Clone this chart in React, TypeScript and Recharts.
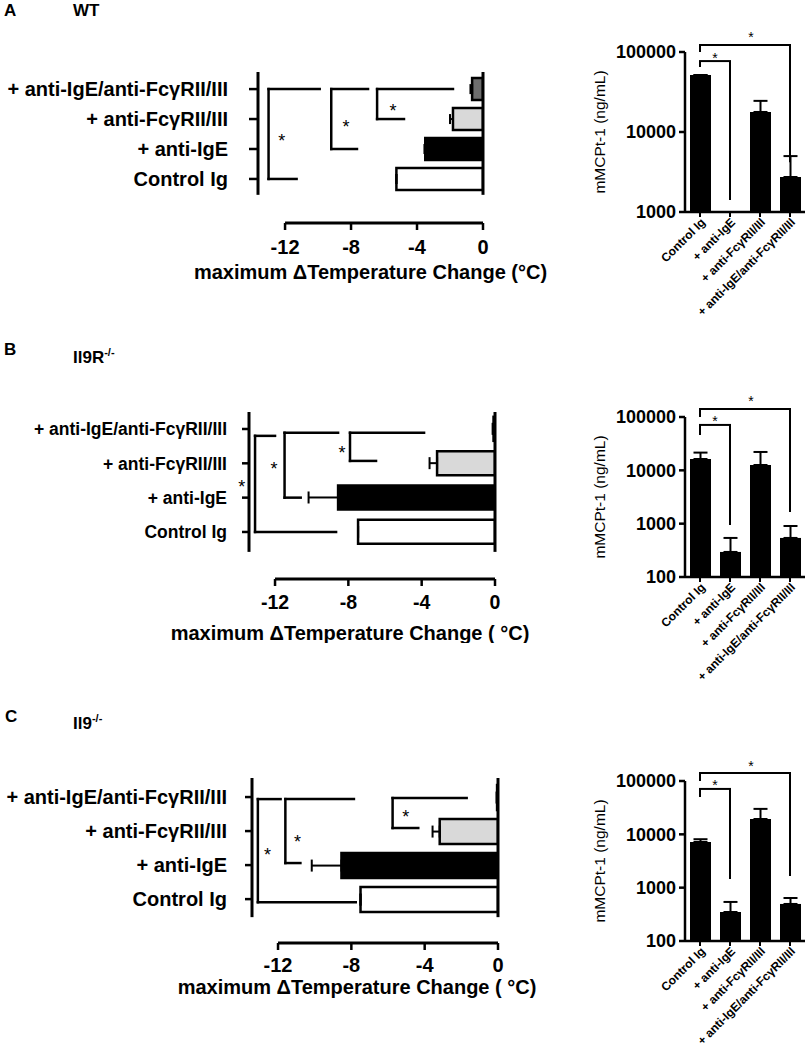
import {
  ComposedChart,
  BarChart,
  Bar,
  XAxis,
  YAxis,
  ErrorBar,
  Cell,
  ReferenceLine,
  ReferenceDot,
} from "recharts";

const FONT = '"Liberation Sans", Arial, Helvetica, sans-serif';

// left panels: rows top -> bottom
const rowLabels = ["+ anti-IgE/anti-FcγRII/III", "+ anti-FcγRII/III", "+ anti-IgE", "Control Ig"];
const rowPos = [1, 2, 3, 4];
const tempTicks = [-12, -8, -4, 0];

// maximum temperature change (°C) and error (one sided)
const tempWT = [-0.66, -1.82, -3.5, -5.25];
const tempWTErr = [0.1, 0.18, 0.05, 0];
const tempIl9R = [-0.08, -3.16, -8.56, -7.47];
const tempIl9RErr = [0.05, 0.41, 1.61, 0];
const tempIl9 = [-0.05, -3.18, -8.54, -7.5];
const tempIl9Err = [0.03, 0.39, 1.62, 0];

// significance brackets on the temperature plots (data units)
const bracketsWT = [
  { x: -13.0, y1: 1, y2: 4, x1: -9.9, x2: -11.3, sx: -12.2, sy: 2.6 },
  { x: -9.2, y1: 1, y2: 3, x1: -6.97, x2: -7.64, sx: -8.3, sy: 2.13 },
  { x: -6.42, y1: 1, y2: 2, x1: -1.82, x2: -4.79, sx: -5.45, sy: 1.6 },
];
const bracketsIl9R = [
  { x: -13.09, y1: 1.2, y2: 4, x1: -12.0, x2: -8.67, sx: -13.82, sy: 2.57 },
  { x: -11.48, y1: 1.11, y2: 3, x1: -8.56, x2: -10.6, sx: -12.06, sy: 2.03 },
  { x: -7.91, y1: 1.11, y2: 1.93, x1: -3.87, x2: -6.49, sx: -8.35, sy: 1.58 },
];
const bracketsIl9 = [
  { x: -13.1, y1: 1.06, y2: 4.09, x1: -11.86, x2: -7.76, sx: -12.58, sy: 2.56 },
  { x: -11.6, y1: 1.06, y2: 2.94, x1: -7.86, x2: -10.78, sx: -10.94, sy: 2.18 },
  { x: -5.75, y1: 1.03, y2: 1.91, x1: -1.71, x2: -4.35, sx: -5.03, sy: 1.47 },
];

// right panels: mMCPt-1 (ng/mL)
const mcptCats = ["Control Ig", "+ anti-IgE", "+ anti-FcγRII/III", "+ anti-IgE/anti-FcγRII/III"];
const mcptWT = [51500, 1000, 17800, 2740];
const mcptWTErr = [0, 0, 6700, 2260];
const mcptIl9R = [16300, 295, 12600, 540];
const mcptIl9RErr = [5200, 245, 9500, 365];
const mcptIl9 = [7200, 350, 19400, 495];
const mcptIl9Err = [900, 190, 10600, 145];

const mcptBracketsWT = [
  { a: mcptCats[0], b: mcptCats[1], top: 77000, aEnd: 65000, bEnd: 1410, star: 92000, starAt: mcptCats[1], starDx: -15 },
  { a: mcptCats[0], b: mcptCats[3], top: 122000, aEnd: 100000, bEnd: 4200, star: 168000, starAt: mcptCats[2], starDx: -9 },
];
const mcptBracketsIl9R = [
  { a: mcptCats[0], b: mcptCats[1], top: 71000, aEnd: 46000, bEnd: 945, star: 96000, starAt: mcptCats[1], starDx: -15 },
  { a: mcptCats[0], b: mcptCats[3], top: 141000, aEnd: 100000, bEnd: 1660, star: 229000, starAt: mcptCats[2], starDx: -9 },
];
const mcptBracketsIl9 = [
  { a: mcptCats[0], b: mcptCats[1], top: 71000, aEnd: 50000, bEnd: 1450, star: 96000, starAt: mcptCats[1], starDx: -15 },
  { a: mcptCats[0], b: mcptCats[3], top: 141000, aEnd: 100000, bEnd: 1660, star: 218000, starAt: mcptCats[2], starDx: -9 },
];

const rowFills = ["#6e6e6e", "#d9d9d9", "#000000", "#ffffff"];
const line = { stroke: "#000", strokeWidth: 2.5, ifOverflow: "visible" as const };

function star(size: number, dx = 0) {
  return (p: any) => (
    <text x={p.cx + dx} y={p.cy} dy={size * 0.58} textAnchor="middle" fontSize={size} fill="#000">
      *
    </text>
  );
}

interface TempProps {
  top: number;
  height: number;
  marginTop: number;
  yAxisWidth: number;
  marginRight: number;
  xMin: number;
  yDomain: [number, number];
  axisSpan: [number, number];
  labelFont: number;
  yTickSize: number;
  yTickMargin: number;
  barSize: number;
  capHalf: number;
  xTickFont: number;
  xTickMargin: number;
  xAxisHeight: number;
  titleOffset: number;
  titleDx: number;
  title: string;
  values: number[];
  errs: number[];
  brackets: typeof bracketsWT;
}

function TempChart(p: TempProps) {
  const data = rowLabels.map((name, i) => ({
    name,
    pos: rowPos[i],
    value: p.values[i],
    err: [p.errs[i], 0],
  }));
  const [lo, hi] = p.axisSpan;
  return (
    <div style={{ position: "absolute", left: 0, top: p.top }}>
      <ComposedChart
        layout="vertical"
        width={560}
        height={p.height}
        data={data}
        margin={{ top: p.marginTop, right: p.marginRight, bottom: 0, left: 0 }}
      >
        <XAxis
          type="number"
          domain={[p.xMin, 0]}
          allowDataOverflow
          ticks={tempTicks}
          axisLine={false}
          tickSize={7}
          tickMargin={p.xTickMargin}
          tickLine={{ stroke: "#000", strokeWidth: 2.5 }}
          tick={{ fill: "#000", fontSize: p.xTickFont, fontWeight: 700 }}
          height={p.xAxisHeight}
          label={{
            value: p.title,
            position: "insideBottom",
            offset: p.titleOffset,
            dx: p.titleDx,
            style: { fill: "#000", fontSize: 20, fontWeight: 700 },
          }}
        />
        <YAxis
          type="number"
          dataKey="pos"
          domain={p.yDomain}
          allowDataOverflow
          ticks={rowPos}
          interval={0}
          tickFormatter={(v: number) => rowLabels[rowPos.indexOf(v)]}
          width={p.yAxisWidth}
          axisLine={false}
          tickSize={p.yTickSize}
          tickMargin={p.yTickMargin}
          tickLine={{ stroke: "#000", strokeWidth: 2.5 }}
          tick={{ fill: "#000", fontSize: p.labelFont, fontWeight: 700 }}
        />
        <Bar dataKey="value" barSize={p.barSize} stroke="#000" strokeWidth={2.5} isAnimationActive={false}>
          {data.map((d, i) => (
            <Cell key={d.name} fill={rowFills[i]} />
          ))}
          <ErrorBar dataKey="err" direction="x" width={p.capHalf} stroke="#000" strokeWidth={2} isAnimationActive={false} />
        </Bar>
        {/* detached axes, Prism style */}
        <ReferenceLine segment={[{ x: p.xMin, y: lo }, { x: p.xMin, y: hi }]} {...line} strokeWidth={3} />
        <ReferenceLine segment={[{ x: 0, y: lo }, { x: 0, y: hi }]} {...line} strokeWidth={3} />
        <ReferenceLine segment={[{ x: -12, y: p.yDomain[1] }, { x: 0, y: p.yDomain[1] }]} {...line} strokeWidth={3} />
        {p.brackets.map((b, i) => [
          <ReferenceLine key={`v${i}`} segment={[{ x: b.x, y: b.y1 }, { x: b.x, y: b.y2 }]} {...line} strokeLinecap="square" />,
          <ReferenceLine key={`t${i}`} segment={[{ x: b.x, y: b.y1 }, { x: b.x1, y: b.y1 }]} {...line} strokeLinecap="square" />,
          <ReferenceLine key={`b${i}`} segment={[{ x: b.x, y: b.y2 }, { x: b.x2, y: b.y2 }]} {...line} strokeLinecap="square" />,
          <ReferenceDot key={`s${i}`} x={b.sx} y={b.sy} r={0} ifOverflow="visible" shape={star(18)} />,
        ])}
      </ComposedChart>
    </div>
  );
}

function SlantTick(props: any) {
  const { x, y, payload } = props;
  return (
    <g transform={`translate(${x + 3},${y})`}>
      <text transform="rotate(-45)" textAnchor="end" dy="0.35em" fontSize={12} fontWeight={700} fill="#000">
        {payload.value}
      </text>
    </g>
  );
}

interface McptProps {
  top: number;
  height: number;
  xAxisHeight: number;
  domain: [number, number];
  ticks: number[];
  values: number[];
  errs: number[];
  brackets: typeof mcptBracketsWT;
}

function McptChart(p: McptProps) {
  const data = mcptCats.map((name, i) => ({ name, value: p.values[i], err: [0, p.errs[i]] }));
  return (
    <div style={{ position: "absolute", left: 560, top: p.top }}>
      <BarChart width={248} height={p.height} data={data} margin={{ top: 32, right: 3, bottom: 0, left: 0 }}>
        <XAxis
          dataKey="name"
          type="category"
          interval={0}
          height={p.xAxisHeight}
          tickSize={5}
          tickMargin={3}
          tickLine={{ stroke: "#000", strokeWidth: 2 }}
          axisLine={{ stroke: "#000", strokeWidth: 2.5 }}
          tick={(t: any) => <SlantTick {...t} />}
        />
        <YAxis
          type="number"
          scale="log"
          domain={p.domain}
          allowDataOverflow
          ticks={p.ticks}
          interval={0}
          tickFormatter={(v: number) => String(v)}
          width={125}
          tickSize={6}
          tickMargin={3}
          axisLine={{ stroke: "#000", strokeWidth: 2.5 }}
          tickLine={{ stroke: "#000", strokeWidth: 2.5 }}
          tick={{ fill: "#000", fontSize: 18, fontWeight: 700 }}
          label={{
            value: "mMCPt-1 (ng/mL)",
            angle: -90,
            position: "insideLeft",
            offset: 39,
            style: { textAnchor: "middle", fill: "#000", fontSize: 15.5 },
          }}
        />
        <Bar dataKey="value" fill="#000" barSize={21} isAnimationActive={false}>
          <ErrorBar dataKey="err" direction="y" width={7} stroke="#000" strokeWidth={2} isAnimationActive={false} />
        </Bar>
        {p.brackets.map((b, i) => [
          <ReferenceLine key={`h${i}`} segment={[{ x: b.a, y: b.top }, { x: b.b, y: b.top }]} {...line} strokeWidth={2} strokeLinecap="square" />,
          <ReferenceLine key={`a${i}`} segment={[{ x: b.a, y: b.top }, { x: b.a, y: b.aEnd }]} {...line} strokeWidth={2} />,
          <ReferenceLine key={`b${i}`} segment={[{ x: b.b, y: b.top }, { x: b.b, y: b.bEnd }]} {...line} strokeWidth={2} />,
          <ReferenceDot key={`s${i}`} x={b.starAt} y={b.star} r={0} ifOverflow="visible" shape={star(14, b.starDx)} />,
        ])}
      </BarChart>
    </div>
  );
}

const heading = { position: "absolute" as const, fontSize: 17, fontWeight: 700, lineHeight: "17px" };

export default function App() {
  return (
    <div style={{ position: "relative", width: 808, height: 1050, background: "#fff", fontFamily: FONT, color: "#000" }}>
      <style>{"body{margin:0}"}</style>

      <div style={{ ...heading, left: 4, top: 2 }}>A</div>
      <div style={{ ...heading, left: 73, top: 2 }}>WT</div>
      <div style={{ ...heading, left: 4, top: 341 }}>B</div>
      <div style={{ ...heading, left: 73, top: 344 }}>
        Il9R<sup style={{ fontSize: 11 }}>-/-</sup>
      </div>
      <div style={{ ...heading, left: 5, top: 708 }}>C</div>
      <div style={{ ...heading, left: 73, top: 710 }}>
        Il9<sup style={{ fontSize: 11 }}>-/-</sup>
      </div>

      <TempChart
        top={40}
        height={243}
        marginTop={32}
        yAxisWidth={258}
        marginRight={77}
        xMin={-13.64}
        yDomain={[0.43, 5.47]}
        axisSpan={[0.43, 4.53]}
        labelFont={20}
        yTickSize={9}
        yTickMargin={21}
        barSize={22}
        capHalf={5}
        xTickFont={20}
        xTickMargin={10}
        xAxisHeight={60}
        titleOffset={4}
        titleDx={0}
        title="maximum ΔTemperature Change (°C)"
        values={tempWT}
        errs={tempWTErr}
        brackets={bracketsWT}
      />
      <TempChart
        top={380}
        height={263}
        marginTop={32}
        yAxisWidth={249}
        marginRight={65}
        xMin={-13.42}
        yDomain={[0.505, 5.37]}
        axisSpan={[0.505, 4.58]}
        labelFont={17.5}
        yTickSize={7}
        yTickMargin={15}
        barSize={24}
        capHalf={6}
        xTickFont={19.5}
        xTickMargin={9}
        xAxisHeight={64}
        titleOffset={3}
        titleDx={-22}
        title="maximum ΔTemperature Change ( °C)"
        values={tempIl9R}
        errs={tempIl9RErr}
        brackets={bracketsIl9R}
      />
      <TempChart
        top={745}
        height={253}
        marginTop={33}
        yAxisWidth={252}
        marginRight={62}
        xMin={-13.42}
        yDomain={[0.44, 5.29]}
        axisSpan={[0.44, 4.53]}
        labelFont={20}
        yTickSize={7}
        yTickMargin={18}
        barSize={25}
        capHalf={6}
        xTickFont={20}
        xTickMargin={8}
        xAxisHeight={55}
        titleOffset={4}
        titleDx={-18}
        title="maximum ΔTemperature Change ( °C)"
        values={tempIl9}
        errs={tempIl9Err}
        brackets={bracketsIl9}
      />

      <McptChart
        top={20}
        height={302}
        xAxisHeight={110}
        domain={[1000, 100000]}
        ticks={[1000, 10000, 100000]}
        values={mcptWT}
        errs={mcptWTErr}
        brackets={mcptBracketsWT}
      />
      <McptChart
        top={385}
        height={302}
        xAxisHeight={110}
        domain={[100, 100000]}
        ticks={[100, 1000, 10000, 100000]}
        values={mcptIl9R}
        errs={mcptIl9RErr}
        brackets={mcptBracketsIl9R}
      />
      <McptChart
        top={749}
        height={301}
        xAxisHeight={109}
        domain={[100, 100000]}
        ticks={[100, 1000, 10000, 100000]}
        values={mcptIl9}
        errs={mcptIl9Err}
        brackets={mcptBracketsIl9}
      />
    </div>
  );
}
